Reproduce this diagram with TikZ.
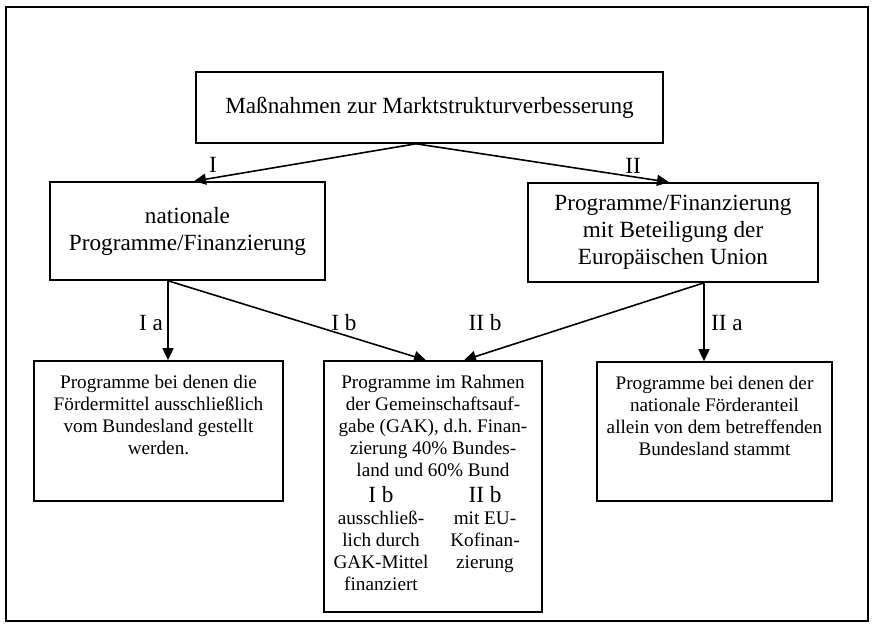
\documentclass[tikz,border=0pt]{standalone}
\usepackage{fontspec}
\setmainfont{Liberation Serif}
\usetikzlibrary{arrows.meta}
\newcommand\boxfont{\fontsize{11.6}{13.5}\selectfont}
\newcommand\smallfont{\fontsize{9.6}{11}\selectfont}
\begin{document}
\begin{tikzpicture}[x=.5pt,y=-.5pt,line width=.8pt,
  every node/.style={font=\boxfont,inner sep=0pt},
  box/.style={draw,rectangle,align=center},
  arr/.style={-{Triangle[length=6pt,width=5.5pt]}}]
  \path[use as bounding box] (0,0) rectangle (872,624);
  \draw[line width=.7pt] (6,7) rectangle (868,621);
  \node[box,minimum width=233.5pt,minimum height=35.5pt] (M) at (429.5,107.5) {Maßnahmen zur Marktstrukturverbesserung};
  \node[box,minimum width=137.5pt,minimum height=49pt] (N) at (187.5,231) {nationale\\Programme/Finanzierung};
  \node[box,minimum width=145pt,minimum height=49.5pt] (E) at (673,232.5) {Programme/Finanzierung\\mit Beteiligung der\\Europäischen Union};
  \node[box] (Ia) at (158.5,431) {\parbox[c][70pt][t]{124.5pt}{\centering\smallfont
    \rule{0pt}{13.6pt}Programme bei denen die\\Fördermittel ausschließlich\\vom Bundesland gestellt\\werden.}};
  \node[box] (G) at (433,486.5) {\parbox[c][125.5pt][t]{109pt}{\centering\smallfont
    \rule{0pt}{13.6pt}Programme im Rahmen\\der Gemeinschaftsauf-\\gabe (GAK), d.h.\ Finan-\\zierung 40\% Bundes-\\land und 60\% Bund\par
    \vspace{2pt}%
    \parbox[t]{52pt}{\centering{\boxfont I b}\\ausschließ-\\lich durch\\GAK-Mittel\\finanziert}%
    \parbox[t]{52pt}{\centering{\boxfont II b}\\mit EU-\\Kofinan-\\zierung}\par}};
  \node[box] (IIa) at (714.5,431.5) {\parbox[c][69.5pt][t]{117.5pt}{\centering\smallfont
    \rule{0pt}{13.6pt}Programme bei denen der\\nationale Förderanteil\\allein von dem betreffenden\\Bundesland stammt}};
  \coordinate (n0) at ([xshift=-9.75pt]N.south);
  \coordinate (e0) at ([xshift=15.5pt]E.south);
  \draw[arr] ([xshift=-6.75pt]M.south) -- ([xshift=3.25pt]N.north);
  \draw[arr] ([xshift=-6.75pt]M.south) -- ([xshift=-2pt]E.north);
  \draw[arr] (n0) -- (n0 |- Ia.north);
  \draw[arr] (n0) -- ([xshift=-3.5pt]G.north);
  \draw[arr] (e0) -- ([xshift=15.5pt]G.north);
  \draw[arr] (e0) -- (e0 |- IIa.north);
  \node (lI) at (213,165) {I};
  \node (lII) at (633,166) {II};
  \node (lIa) at (151,323) {I a};
  \node (lIb) at (344,323) {I b};
  \node (lIIb) at (485,323) {II b};
  \node (lIIa) at (727,323) {II a};
\end{tikzpicture}
\end{document}
